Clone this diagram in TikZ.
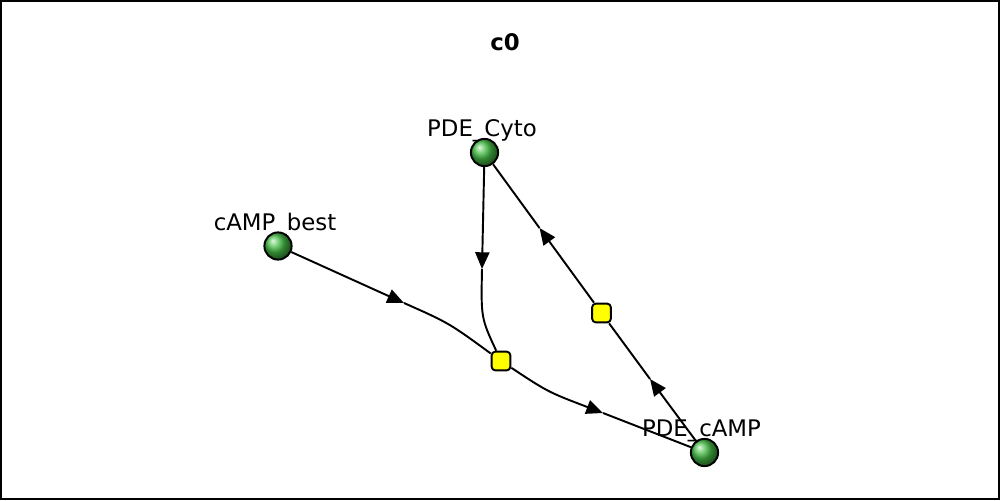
\documentclass[tikz,border=0pt]{standalone}
\usepackage{fontspec}
\setmainfont{DejaVu Sans}
\usepackage{tikz}
\usepackage{xcolor}
\usetikzlibrary{arrows.meta, shapes.geometric, positioning}

\definecolor{reactfill}{RGB}{255,255,0}
\definecolor{ballgreen}{RGB}{70,190,70}

\tikzset{
    species/.style={circle, draw=black, line width=1.1pt, minimum size=15.5pt, inner sep=0pt, shading=ball, ball color=ballgreen},
    reaction/.style={rectangle, draw=black, line width=1.1pt, fill=reactfill, rounded corners=2pt, minimum size=10.6pt, inner sep=0pt},
    lbl/.style={anchor=base, inner sep=0pt, font=\fontsize{13}{15}\selectfont},
    edge/.style={line width=1.1pt},
    arr/.style={edge, -{Triangle[length=9.5pt, width=8pt]}}
}

\begin{document}
\begin{tikzpicture}[x=0.02cm, y=-0.02cm]

        \useasboundingbox (0,0) rectangle (1000,500);
        \draw[line width=1pt] (0.9,0.9) rectangle (999.1,499.1);

        \node[font=\fontsize{13}{15}\selectfont\bfseries] (title) at (505,42) {c0};

        \node[lbl] (lblCyto) at (482,136) {PDE\_Cyto};
        \node[lbl] (lblBest) at (275,230) {cAMP\_best};
        \node[lbl] (lblCamp) at (701.5,436) {PDE\_cAMP};

        \node[species] (cyto) at (484.5,152.5) {};
        \node[species] (best) at (278,246) {};
        \node[species] (camp) at (704.5,452.5) {};

        \node[reaction] (r1) at (501,361) {};
        \node[reaction] (r2) at (601.5,313) {};

        \coordinate (m1) at (404,303);
        \coordinate (m2) at (482,269);
        \coordinate (m3) at (603,413);
        \coordinate (m4) at (650,379);
        \coordinate (m5) at (539.5,228);

        \draw[arr] (best) -- (m1);
        \draw[edge] (m1) .. controls (449,323) .. (r1);
        \draw[arr] (cyto) -- (m2);
        \draw[edge] (m2) .. controls (481,318) .. (r1);
        \draw[arr] (r1) .. controls (548,392) .. (m3);
        \draw[edge] (m3) -- (camp);
        \draw[arr] (camp) -- (m4);
        \draw[edge] (m4) -- (r2);
        \draw[arr] (r2) -- (m5);
        \draw[edge] (m5) -- (cyto);

    \end{tikzpicture}
\end{document}
